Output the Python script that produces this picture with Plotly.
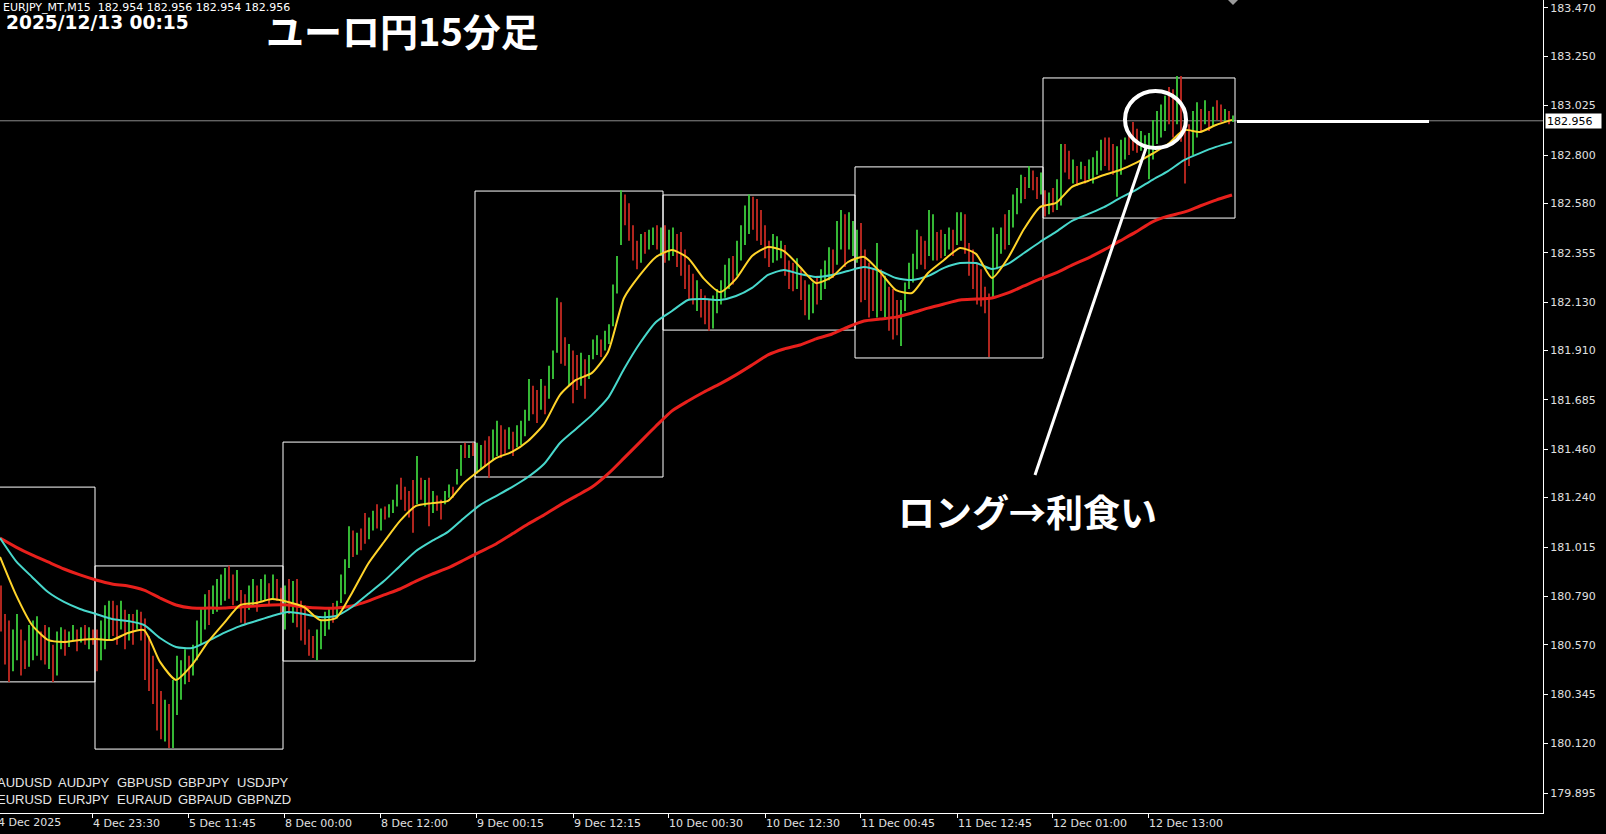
import plotly.graph_objects as go

# ---------------- DATA (EURJPY M15, drawn as 30-minute high/low bars) ----------------
hi_d4 = [180.84, 180.71, 180.68, 180.64, 180.71, 180.64, 180.59, 180.66, 180.68, 180.70,
         180.63, 180.66, 180.65, 180.57, 180.63, 180.65, 180.64, 180.63, 180.66, 180.64,
         180.65, 180.66, 180.65, 180.64]
lo_d4 = [180.63, 180.48, 180.40, 180.45, 180.50, 180.43, 180.46, 180.47, 180.50, 180.52,
         180.50, 180.48, 180.46, 180.40, 180.43, 180.55, 180.52, 180.56, 180.59, 180.54,
         180.58, 180.57, 180.55, 180.57]
dir_d4 = "rrrggrrgggrrgrggrggrgrgr"

hi_d5 = [180.64, 180.68, 180.75, 180.77, 180.77, 180.75, 180.77, 180.73, 180.71, 180.71,
         180.73, 180.72, 180.69, 180.61, 180.52, 180.46, 180.36, 180.32, 180.30, 180.41,
         180.52, 180.50, 180.55, 180.52, 180.57, 180.68, 180.74, 180.80, 180.82, 180.84,
         180.87, 180.89, 180.92, 180.93, 180.89, 180.91, 180.82, 180.80, 180.84, 180.87,
         180.84, 180.87, 180.89, 180.85, 180.89, 180.87, 180.83]
lo_d5 = [180.45, 180.50, 180.55, 180.59, 180.61, 180.57, 180.64, 180.55, 180.59, 180.57,
         180.64, 180.59, 180.41, 180.36, 180.30, 180.18, 180.14, 180.13, 180.10, 180.10,
         180.25, 180.32, 180.39, 180.40, 180.43, 180.50, 180.57, 180.64, 180.66, 180.71,
         180.72, 180.75, 180.77, 180.78, 180.75, 180.77, 180.67, 180.66, 180.73, 180.75,
         180.72, 180.77, 180.77, 180.75, 180.78, 180.77, 180.71]
dir_d5 = "rgggrrgrgr" "grrrrrrgrg" "gggrggggrg" "gggrrgrrgg" "rggrgrr"

hi_d8 = [180.84, 180.87, 180.86, 180.87, 180.77, 180.75, 180.64, 180.61, 180.64, 180.68,
         180.72, 180.74, 180.76, 180.77, 180.89, 180.96, 181.11, 181.09, 181.08, 181.10,
         181.17, 181.15, 181.18, 181.21, 181.19, 181.20, 181.21, 181.23, 181.30, 181.33,
         181.29, 181.27, 181.32, 181.43, 181.33, 181.32, 181.33, 181.27, 181.25, 181.23,
         181.27, 181.30, 181.29, 181.37, 181.48, 181.49, 181.48, 181.49]
lo_d8 = [180.64, 180.71, 180.67, 180.65, 180.59, 180.57, 180.52, 180.51, 180.50, 180.55,
         180.61, 180.64, 180.67, 180.69, 180.76, 180.80, 180.92, 180.97, 180.98, 181.00,
         181.03, 181.05, 181.09, 181.10, 181.09, 181.14, 181.15, 181.17, 181.20, 181.23,
         181.18, 181.15, 181.08, 181.21, 181.23, 181.20, 181.11, 181.17, 181.18, 181.14,
         181.21, 181.24, 181.24, 181.30, 181.34, 181.42, 181.42, 181.43]
dir_d8 = "grgrrrrrgg" "ggrggggrgr" "rggrgrgggr" "rrrgrgrgrr" "ggrggrgr"

hi_d9 = [181.49, 181.48, 181.50, 181.52, 181.55, 181.59, 181.57, 181.55, 181.56, 181.54,
         181.57, 181.59, 181.64, 181.78, 181.75, 181.73, 181.78, 181.75, 181.84, 181.91,
         182.15, 182.13, 181.97, 181.94, 181.91, 181.89, 181.90, 181.87, 181.89, 181.96,
         181.98, 181.96, 182.00, 182.03, 182.21, 182.34, 182.64, 182.62, 182.58, 182.48,
         182.41, 182.44, 182.45, 182.46, 182.47, 182.48, 182.47]
lo_d9 = [181.35, 181.37, 181.38, 181.33, 181.41, 181.43, 181.42, 181.44, 181.46, 181.43,
         181.47, 181.48, 181.52, 181.59, 181.62, 181.58, 181.64, 181.62, 181.69, 181.78,
         181.90, 181.85, 181.84, 181.75, 181.67, 181.73, 181.75, 181.69, 181.78, 181.87,
         181.89, 181.88, 181.91, 181.94, 182.02, 182.17, 182.39, 182.48, 182.41, 182.32,
         182.28, 182.31, 182.35, 182.37, 182.39, 182.37, 182.34]
dir_d9 = "ggrrggrrgr" "ggggrrgrgg" "grrgrrgrgg" "grgggggrrr" "rgrggrg"

hi_d10 = [182.48, 182.46, 182.47, 182.44, 182.45, 182.37, 182.30, 182.26, 182.23, 182.19,
          182.16, 182.14, 182.16, 182.19, 182.23, 182.30, 182.33, 182.34, 182.41, 182.48,
          182.57, 182.62, 182.61, 182.60, 182.55, 182.48, 182.41, 182.44, 182.43, 182.41,
          182.39, 182.32, 182.31, 182.33, 182.28, 182.23, 182.21, 182.22, 182.25, 182.28,
          182.32, 182.38, 182.37, 182.50, 182.55, 182.53, 182.54, 182.50]
lo_d10 = [182.31, 182.32, 182.34, 182.29, 182.25, 182.19, 182.14, 182.12, 182.09, 182.06,
          182.03, 182.00, 182.01, 182.08, 182.12, 182.15, 182.19, 182.21, 182.25, 182.32,
          182.39, 182.44, 182.46, 182.41, 182.39, 182.33, 182.29, 182.31, 182.32, 182.33,
          182.25, 182.19, 182.18, 182.19, 182.14, 182.07, 182.05, 182.08, 182.12, 182.14,
          182.19, 182.23, 182.24, 182.30, 182.37, 182.29, 182.37, 182.34]
dir_d10 = "rggrrrrrgr" "rrgggggrgg" "ggrrrrrggg" "rrrgrrggrg" "ggrggrgg"

hi_d11 = [182.46, 182.49, 182.37, 182.31, 182.28, 182.40, 182.28, 182.25, 182.20, 182.19,
          182.14, 182.14, 182.22, 182.31, 182.35, 182.46, 182.43, 182.41, 182.55, 182.53,
          182.45, 182.46, 182.44, 182.47, 182.46, 182.54, 182.54, 182.53, 182.40, 182.37,
          182.31, 182.28, 182.20, 182.17, 182.47, 182.44, 182.47, 182.53, 182.55, 182.62,
          182.65, 182.71, 182.70, 182.75, 182.73, 182.70, 182.72]
lo_d11 = [182.31, 182.13, 182.14, 182.06, 182.09, 182.06, 182.09, 182.06, 182.00, 181.96,
          181.98, 181.93, 182.09, 182.19, 182.22, 182.28, 182.30, 182.28, 182.34, 182.32,
          182.32, 182.33, 182.34, 182.37, 182.34, 182.39, 182.41, 182.35, 182.25, 182.19,
          182.12, 182.11, 182.08, 181.88, 182.15, 182.28, 182.35, 182.37, 182.39, 182.47,
          182.53, 182.58, 182.60, 182.65, 182.64, 182.60, 182.62]
dir_d11 = "grrrrgrgrr" "rgggggrrgg" "rrggrggrrr" "rrrrgggrgg" "ggrgrrg"

hi_d12 = [182.64, 182.63, 182.65, 182.69, 182.85, 182.85, 182.82, 182.78, 182.75, 182.77,
          182.75, 182.78, 182.79, 182.82, 182.87, 182.88, 182.88, 182.85, 182.84, 182.87,
          182.88, 182.91, 182.95, 182.92, 182.91, 182.89, 182.90, 182.96, 183.00, 183.03,
          183.07, 183.11, 183.10, 183.16, 183.16, 182.96, 182.94, 183.00, 183.04, 183.01,
          183.05, 183.00, 183.02, 183.05, 183.03, 183.01, 183.00, 182.98]
lo_d12 = [182.52, 182.53, 182.54, 182.55, 182.57, 182.72, 182.69, 182.67, 182.66, 182.69,
          182.67, 182.69, 182.67, 182.71, 182.73, 182.75, 182.73, 182.71, 182.61, 182.71,
          182.78, 182.80, 182.82, 182.81, 182.82, 182.82, 182.69, 182.78, 182.85, 182.88,
          182.91, 182.94, 182.88, 182.94, 182.86, 182.67, 182.75, 182.80, 182.88, 182.91,
          182.94, 182.91, 182.93, 182.96, 182.95, 182.95, 182.94, 182.95]
dir_d12 = "rgrggrrgrg" "rggggrrrgg" "grrrgggggg" "grrgrrrggr" "grgrrgrg"

# daily high / low boxes
day_hi = [181.288, 180.929, 181.493, 182.636, 182.618, 182.746, 183.151]
day_lo = [180.401, 180.095, 180.496, 181.334, 182.003, 181.876, 182.513]

# moving averages, sampled every 8 bars (2 hours)
ma_fast = [180.970, 180.797, 180.660, 180.592, 180.583, 180.592, 180.596, 180.592, 180.624, 180.637,
           180.492, 180.410, 180.478, 180.583, 180.669, 180.751, 180.760, 180.778, 180.765, 180.742,
           180.683, 180.692, 180.806, 180.938, 181.038, 181.134, 181.202, 181.215, 181.225, 181.307,
           181.366, 181.420, 181.448, 181.498, 181.575, 181.708, 181.776, 181.808, 181.903, 182.149,
           182.254, 182.336, 182.368, 182.331, 182.236, 182.176, 182.236, 182.340, 182.381, 182.363,
           182.290, 182.217, 182.245, 182.313, 182.336, 182.268, 182.185, 182.172, 182.263, 182.322,
           182.377, 182.350, 182.240, 182.331, 182.463, 182.563, 182.582, 182.655, 182.682, 182.709,
           182.732, 182.764, 182.805, 182.850, 182.914, 182.905, 182.937, 182.960]
ma_mid = [181.056, 180.951, 180.879, 180.810, 180.765, 180.733, 180.710, 180.687, 180.678, 180.660,
          180.601, 180.560, 180.555, 180.587, 180.624, 180.655, 180.678, 180.701, 180.719, 180.710,
          180.696, 180.701, 180.742, 180.801, 180.860, 180.929, 180.997, 181.043, 181.084, 181.147,
          181.206, 181.247, 181.288, 181.334, 181.393, 181.489, 181.553, 181.617, 181.694, 181.826,
          181.944, 182.040, 182.090, 182.140, 182.144, 182.140, 182.158, 182.195, 182.254, 182.277,
          182.258, 182.245, 182.254, 182.272, 182.290, 182.272, 182.240, 182.231, 182.249, 182.286,
          182.308, 182.308, 182.281, 182.304, 182.354, 182.404, 182.450, 182.500, 182.531, 182.563,
          182.604, 182.641, 182.686, 182.727, 182.777, 182.809, 182.837, 182.859]
ma_slow = [181.056, 181.015, 180.979, 180.947, 180.915, 180.888, 180.865, 180.847, 180.838, 180.819,
           180.783, 180.751, 180.737, 180.737, 180.737, 180.742, 180.747, 180.751, 180.751, 180.742,
           180.737, 180.737, 180.747, 180.769, 180.797, 180.824, 180.860, 180.892, 180.920, 180.956,
           180.993, 181.029, 181.074, 181.120, 181.161, 181.206, 181.247, 181.288, 181.348, 181.420,
           181.493, 181.566, 181.635, 181.680, 181.721, 181.758, 181.799, 181.844, 181.890, 181.917,
           181.935, 181.963, 181.985, 182.017, 182.044, 182.053, 182.062, 182.081, 182.103, 182.122,
           182.140, 182.144, 182.149, 182.172, 182.204, 182.236, 182.263, 182.299, 182.331, 182.368,
           182.409, 182.450, 182.495, 182.522, 182.540, 182.568, 182.595, 182.618]

bid_price = 182.956
y_tick_vals = [183.470, 183.250, 183.025, 182.800, 182.580, 182.355, 182.130, 181.910, 181.685,
               181.460, 181.240, 181.015, 180.790, 180.570, 180.345, 180.120, 179.895]
x_tick_idx = [46, 94, 142, 190, 238, 286.5, 334, 382.5, 430, 478.5, 526, 574]
x_tick_text = ["4 Dec 23:30", "5 Dec 11:45", "8 Dec 00:00", "8 Dec 12:00", "9 Dec 00:15",
               "9 Dec 12:15", "10 Dec 00:30", "10 Dec 12:30", "11 Dec 00:45", "11 Dec 12:45",
               "12 Dec 01:00", "12 Dec 13:00"]
first_tick_idx = -2
first_tick_text = "4 Dec 2025"
symbols_row1 = ["AUDUSD", "AUDJPY", "GBPUSD", "GBPJPY", "USDJPY"]
symbols_row2 = ["EURUSD", "EURJPY", "EURAUD", "GBPAUD", "GBPNZD"]

# annotation drawing (in bar-index / price units)
circle_box = (562.5, 593.0, 182.832, 183.092)
pointer_line = (517.5, 181.343, 573.5, 182.846)
hline_seg = (618.5, 714.5, 182.953)

# ---------------- BUILD ----------------
days = [(hi_d4, lo_d4, dir_d4), (hi_d5, lo_d5, dir_d5), (hi_d8, lo_d8, dir_d8),
        (hi_d9, lo_d9, dir_d9), (hi_d10, lo_d10, dir_d10), (hi_d11, lo_d11, dir_d11),
        (hi_d12, lo_d12, dir_d12)]
hi, lo, dirs = [], [], ""
for h, l, d in days:
    hi += h
    lo += l
    dirs += d
x_bar = [2 * j + 0.5 for j in range(len(hi))]   # one 30-min bar = 2 M15 slots

gx, gy, rx, ry = [], [], [], []
for xb, h, l, d in zip(x_bar, hi, lo, dirs):
    if d == "g":
        gx += [xb, xb, None]; gy += [l, h, None]
    else:
        rx += [xb, xb, None]; ry += [l, h, None]

ma_x = [8 * k for k in range(len(ma_fast))]

X_MAX = 771.5
Y_MIN, Y_MAX = 179.804, 183.506

fig = go.Figure()
fig.add_trace(go.Scatter(x=gx, y=gy, mode="lines", line=dict(color="#3ccc3c", width=1.8),
                         hoverinfo="skip", showlegend=False))
fig.add_trace(go.Scatter(x=rx, y=ry, mode="lines", line=dict(color="#c42a22", width=1.8),
                         hoverinfo="skip", showlegend=False))
fig.add_trace(go.Scatter(x=ma_x, y=ma_slow, mode="lines", line=dict(color="#e8201c", width=3, shape="spline", smoothing=0.6),
                         hoverinfo="skip", showlegend=False))
fig.add_trace(go.Scatter(x=ma_x, y=ma_mid, mode="lines", line=dict(color="#48d8cc", width=2, shape="spline", smoothing=0.6),
                         hoverinfo="skip", showlegend=False))
fig.add_trace(go.Scatter(x=ma_x, y=ma_fast, mode="lines", line=dict(color="#ffd42a", width=2, shape="spline", smoothing=0.6),
                         hoverinfo="skip", showlegend=False))

shapes = []
start = 0
for (h, l, d), top, bot in zip(days, day_hi, day_lo):
    n = len(h)
    x0 = x_bar[start] - 1
    x1 = x_bar[start + n - 1] + 1
    shapes.append(dict(type="rect", xref="x", yref="y", x0=x0, x1=x1, y0=bot, y1=top,
                       line=dict(color="white", width=1), fillcolor="rgba(0,0,0,0)", layer="below"))
    start += n

shapes.append(dict(type="line", xref="paper", yref="y", x0=0, x1=1, y0=bid_price, y1=bid_price,
                   line=dict(color="#8a8a8a", width=1), layer="below"))
shapes.append(dict(type="line", xref="x", yref="y", x0=hline_seg[0], x1=hline_seg[1],
                   y0=hline_seg[2], y1=hline_seg[2], line=dict(color="white", width=3)))
shapes.append(dict(type="circle", xref="x", yref="y", x0=circle_box[0], x1=circle_box[1],
                   y0=circle_box[2], y1=circle_box[3], line=dict(color="white", width=4)))
shapes.append(dict(type="line", xref="x", yref="y", x0=pointer_line[0], y0=pointer_line[1],
                   x1=pointer_line[2], y1=pointer_line[3], line=dict(color="white", width=3)))
# chart-shift marker at the top
last_x = x_bar[-1]
shapes.append(dict(type="path", xref="x", yref="paper",
                   path=f"M {last_x-2.5},1 L {last_x+2.5},1 L {last_x},{1-5/813} Z",
                   fillcolor="#9a9a9a", line=dict(width=0)))

ann = []
def px_x(p):
    return p / 1543.0
def px_y(p):
    return 1 - p / 813.0

ann.append(dict(xref="paper", yref="paper", x=px_x(1), y=px_y(8), xanchor="left", yanchor="middle",
                text="EURJPY_MT,M15\u00a0\u00a0182.954 182.956 182.954 182.956", showarrow=False,
                font=dict(family="DejaVu Sans", size=11, color="white")))
ann.append(dict(xref="paper", yref="paper", x=px_x(4), y=px_y(23), xanchor="left", yanchor="middle",
                text="2025/12/13 00:15", showarrow=False,
                font=dict(family="DejaVu Sans", size=18.6, color="white", weight="bold")))
ann.append(dict(xref="paper", yref="paper", x=px_x(264), y=px_y(30), xanchor="left", yanchor="middle",
                text="ユーロ円15分足", showarrow=False,
                font=dict(family="Noto Sans CJK JP", size=38, color="white", weight="bold")))
ann.append(dict(xref="paper", yref="paper", x=px_x(896), y=px_y(511), xanchor="left", yanchor="middle",
                text="ロング→利食い", showarrow=False,
                font=dict(family="Noto Sans CJK JP", size=37, color="white", weight="bold")))

sym_x = [-5, 56, 115, 176, 235]
for sx, s1, s2 in zip(sym_x, symbols_row1, symbols_row2):
    ann.append(dict(xref="paper", yref="paper", x=px_x(sx), y=px_y(782), xanchor="left", yanchor="middle",
                    text=s1, showarrow=False, font=dict(family="Liberation Sans", size=13, color="#e6e6e6")))
    ann.append(dict(xref="paper", yref="paper", x=px_x(sx), y=px_y(799), xanchor="left", yanchor="middle",
                    text=s2, showarrow=False, font=dict(family="Liberation Sans", size=13, color="#e6e6e6")))

ann.append(dict(xref="paper", yref="paper", x=first_tick_idx / X_MAX, y=px_y(822), xanchor="left",
                yanchor="middle", text=first_tick_text, showarrow=False,
                font=dict(family="DejaVu Sans", size=11, color="#e0e0e0")))

ann.append(dict(xref="paper", yref="y", x=px_x(1545), y=bid_price, xanchor="left", yanchor="middle",
                text="182.956", showarrow=False, bgcolor="white", borderpad=1, width=53, height=12,
                align="left", font=dict(family="DejaVu Sans", size=11, color="black")))

fig.update_layout(
    width=1606, height=834,
    margin=dict(l=0, r=63, t=0, b=21, pad=0),
    paper_bgcolor="black", plot_bgcolor="black",
    showlegend=False,
    shapes=shapes, annotations=ann,
    xaxis=dict(range=[0, X_MAX], showgrid=False, zeroline=False, showline=True, linecolor="white",
               linewidth=1, ticks="outside", ticklen=4, tickcolor="white",
               tickvals=x_tick_idx, ticktext=x_tick_text, ticklabelposition="outside right",
               tickfont=dict(family="DejaVu Sans", size=11, color="#e0e0e0"), automargin=False,
               fixedrange=True),
    yaxis=dict(range=[Y_MIN, Y_MAX], side="right", showgrid=False, zeroline=False, showline=True,
               linecolor="white", linewidth=1, ticks="outside", ticklen=4, tickcolor="white",
               tickvals=y_tick_vals, ticktext=[f"{v:.3f}" for v in y_tick_vals],
               tickfont=dict(family="DejaVu Sans", size=11, color="#e0e0e0"), automargin=False,
               fixedrange=True),
)

fig.write_html("out.html", config={"displayModeBar": False},
               post_script="document.body.style.margin='0';document.body.style.background='black';"
                           "document.body.style.overflow='hidden';")
